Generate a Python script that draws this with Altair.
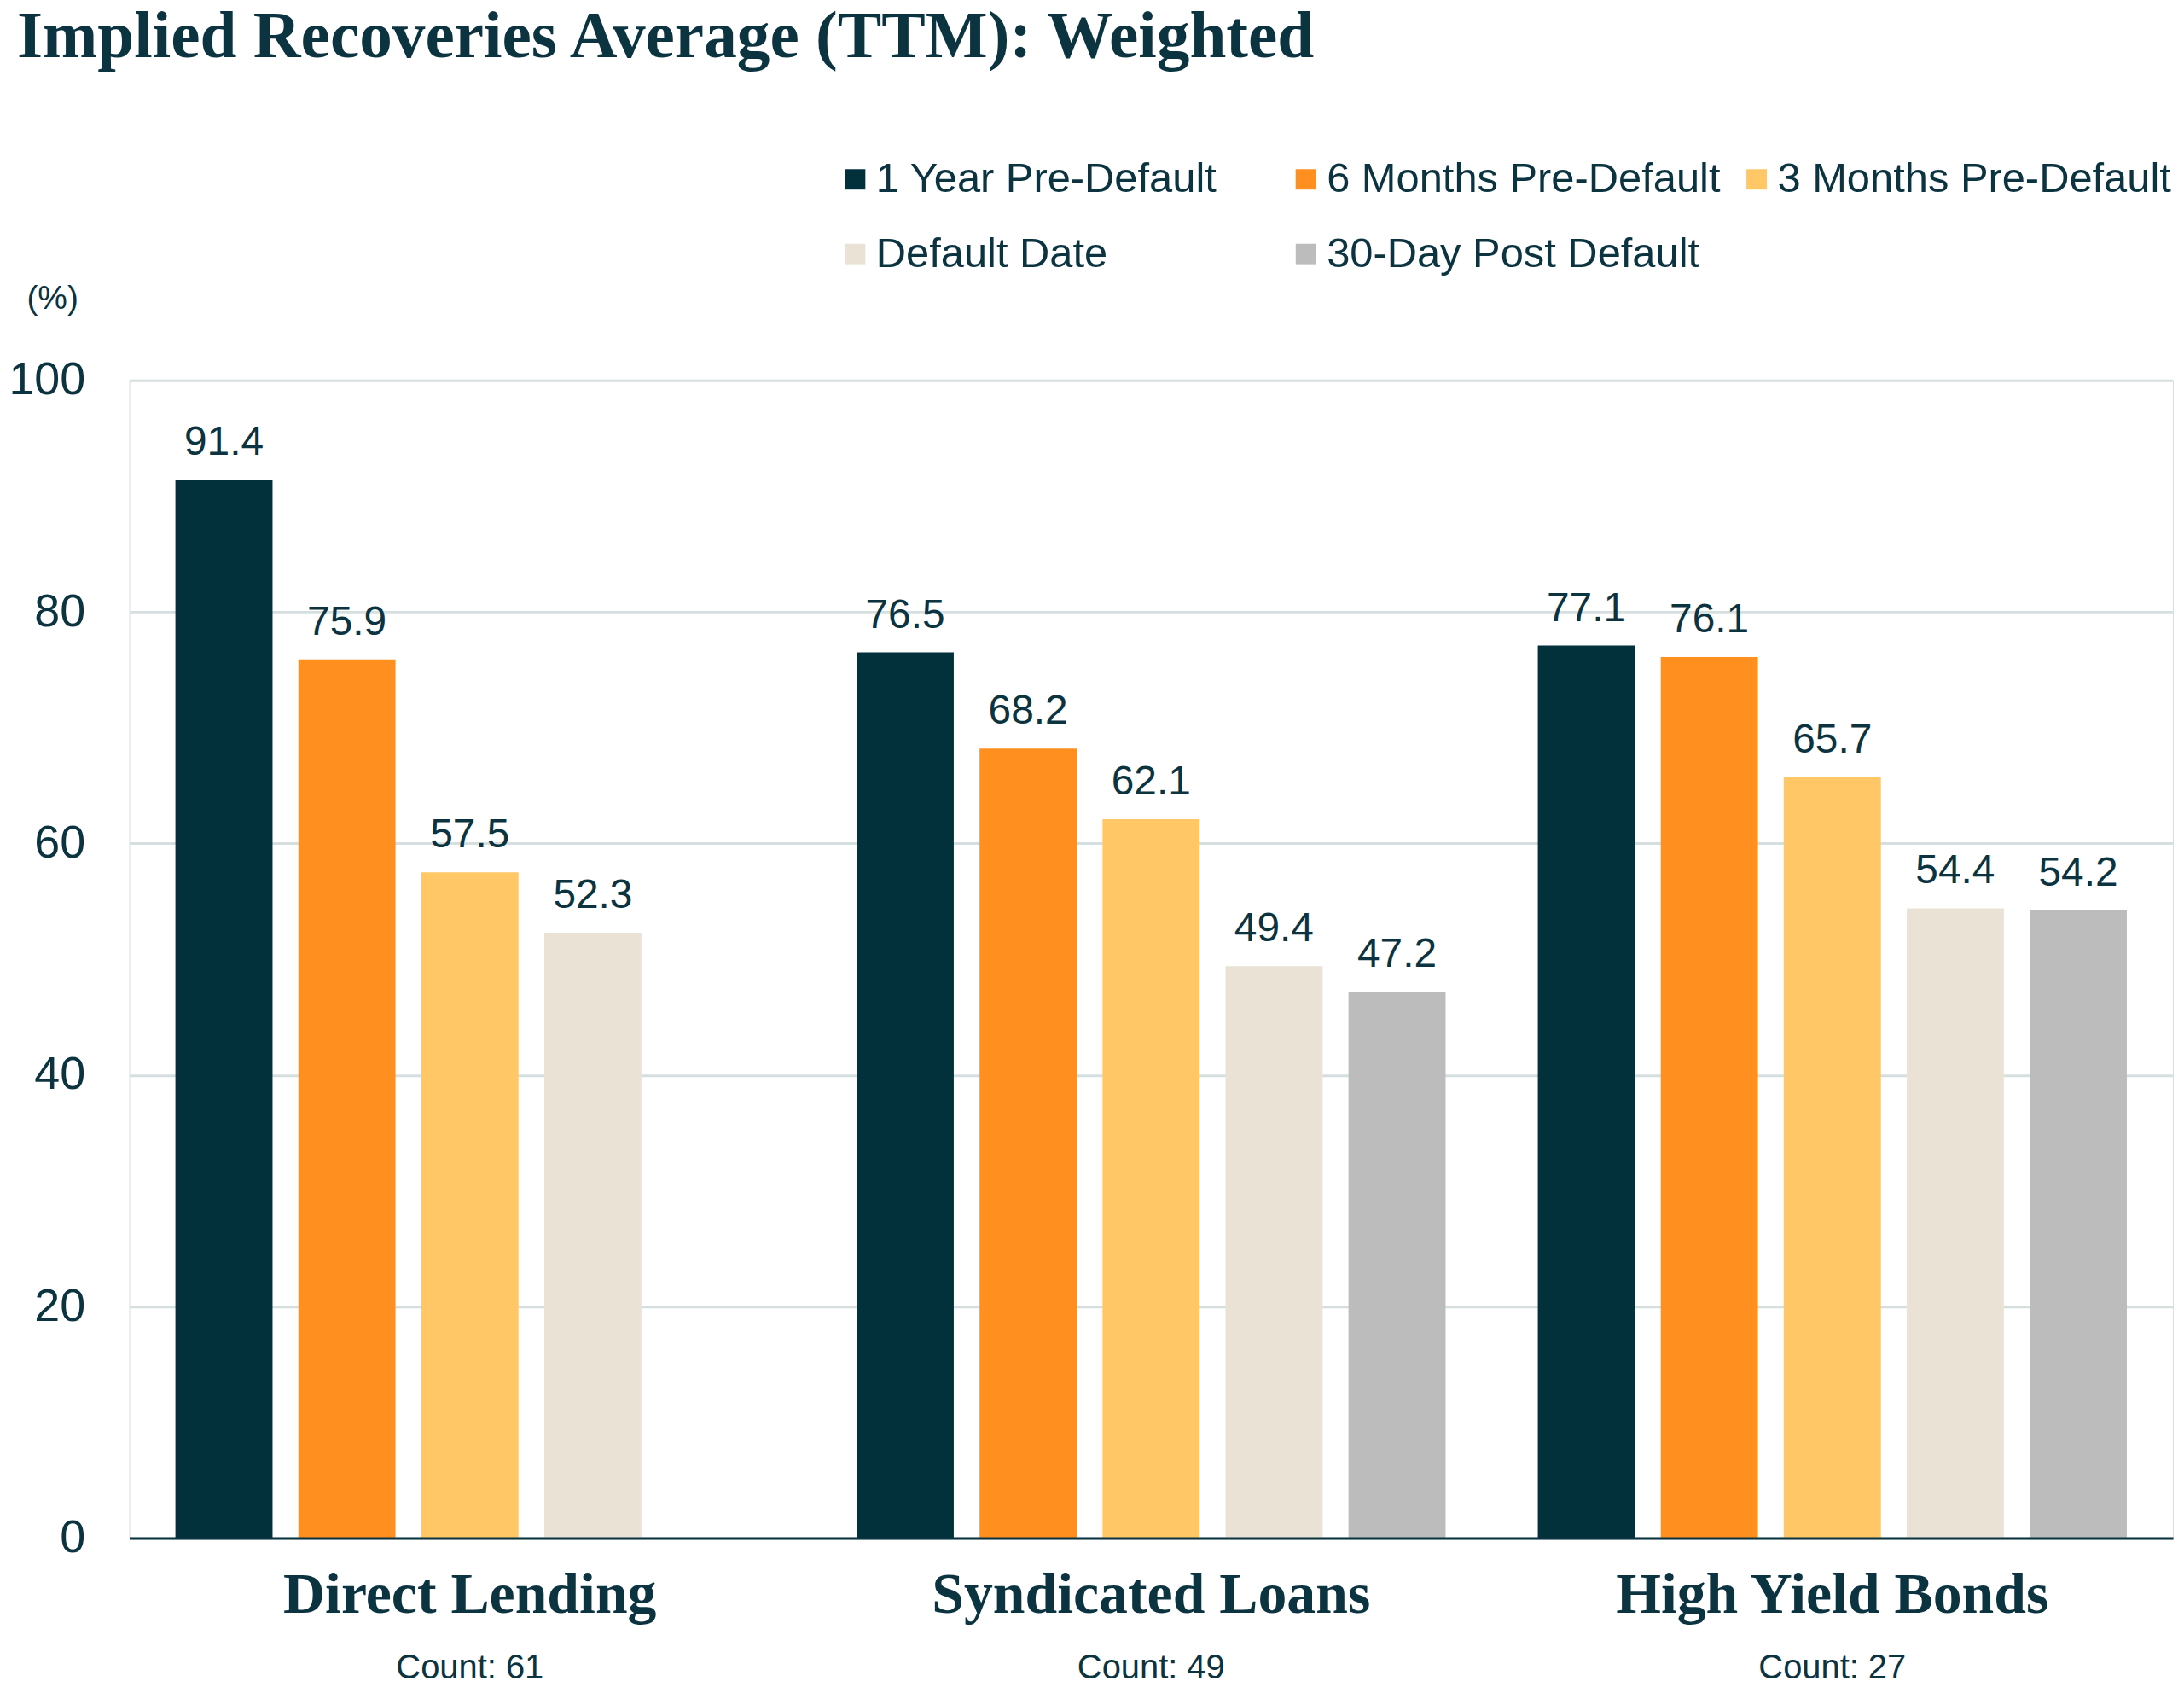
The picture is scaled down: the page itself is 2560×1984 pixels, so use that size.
import altair as alt
import pandas as pd

categories = ["Direct Lending", "Syndicated Loans", "High Yield Bonds"]
counts = [61, 49, 27]
series = ["1 Year Pre-Default", "6 Months Pre-Default", "3 Months Pre-Default",
          "Default Date", "30-Day Post Default"]
colors = ["#02313C", "#FF8F1F", "#FFC766", "#EAE2D5", "#BBBCBB"]

direct_lending = [91.4, 75.9, 57.5, 52.3, None]
syndicated_loans = [76.5, 68.2, 62.1, 49.4, 47.2]
high_yield_bonds = [77.1, 76.1, 65.7, 54.4, 54.2]

y_ticks = [0, 20, 40, 60, 80, 100]

TEXT = "#0B3340"
SANS = "Liberation Sans"
SERIF = "Liberation Serif"

rows = []
for cat, vals in zip(categories, [direct_lending, syndicated_loans, high_yield_bonds]):
    for s, v in zip(series, vals):
        if v is not None:
            rows.append({"category": cat, "series": s, "value": v})
df = pd.DataFrame(rows)

count_expr = "''"
for cat, n in reversed(list(zip(categories, counts))):
    count_expr = f"datum.value == '{cat}' ? 'Count: {n}' : ({count_expr})"

x_scale = alt.Scale(domain=categories, paddingInner=0, paddingOuter=0)
xo_scale = alt.Scale(domain=series, paddingInner=0.21, paddingOuter=0.375)
y_scale = alt.Scale(domain=[0, 100], nice=False)

base = alt.Chart(df)

bars = base.mark_bar().encode(
    x=alt.X("category:N", scale=x_scale, sort=categories,
            axis=alt.Axis(title=None, labelFont=SERIF, labelFontWeight="bold",
                          labelFontSize=68, labelColor=TEXT, labelBaseline="alphabetic",
                          labelPadding=87, labelLimit=2000, ticks=False, tickSize=0,
                          domainColor=TEXT, domainWidth=3, labelAngle=0, grid=False,
                          zindex=1)),
    xOffset=alt.XOffset("series:N", scale=xo_scale, sort=series),
    y=alt.Y("value:Q", scale=y_scale,
            axis=alt.Axis(values=y_ticks, title="(%)", titleAngle=0, titleX=-121,
                          titleY=-84, titleAlign="left", titleBaseline="alphabetic",
                          titleFont=SANS, titleFontSize=39, titleFontWeight="normal",
                          titleColor=TEXT, labelFont=SANS, labelFontSize=54,
                          labelColor=TEXT, labelPadding=52, ticks=False, tickSize=0,
                          domain=False, gridColor="#D6DFE0", gridWidth=3)),
    color=alt.Color("series:N", scale=alt.Scale(domain=series, range=colors),
                    legend=alt.Legend(title=None, orient="none", legendX=829, legendY=-261,
                                      columns=3, direction="horizontal", gridAlign="all",
                                      columnPadding=18, rowPadding=38, symbolType="square",
                                      symbolSize=576, symbolStrokeWidth=0, labelFont=SANS,
                                      labelFontSize=49, labelColor=TEXT, labelOffset=0,
                                      labelLimit=1000, padding=0)),
)

labels = base.mark_text(baseline="alphabetic", align="center", dy=-29, font=SANS,
                        fontSize=48, color=TEXT).encode(
    x=alt.X("category:N", scale=x_scale, sort=categories,
            axis=alt.Axis(orient="bottom", title=None, labelExpr=count_expr,
                          labelFont=SANS, labelFontSize=40, labelColor=TEXT,
                          labelBaseline="alphabetic", labelPadding=165, labelLimit=2000,
                          ticks=False, tickSize=0, domain=False, grid=False, labelAngle=0)),
    xOffset=alt.XOffset("series:N", scale=xo_scale, sort=series),
    y=alt.Y("value:Q", scale=y_scale),
    text=alt.Text("value:Q", format=".1f"),
)

chart = alt.layer(bars, labels).resolve_axis(x="independent").properties(
    width=2403, height=1361,
    autosize=alt.AutoSizeParams(type="none"),
    padding={"left": 144, "top": 436, "right": 5, "bottom": 178},
    title=alt.TitleParams(text="Implied Recoveries Average (TTM): Weighted",
                          anchor="start", frame="group", font=SERIF, fontWeight="bold",
                          fontSize=77.5, color=TEXT, dx=-132, dy=-102, offset=0),
).configure_view(stroke=None).configure(background="white")

chart.save("out.html", embed_options={"renderer": "svg", "actions": False})
